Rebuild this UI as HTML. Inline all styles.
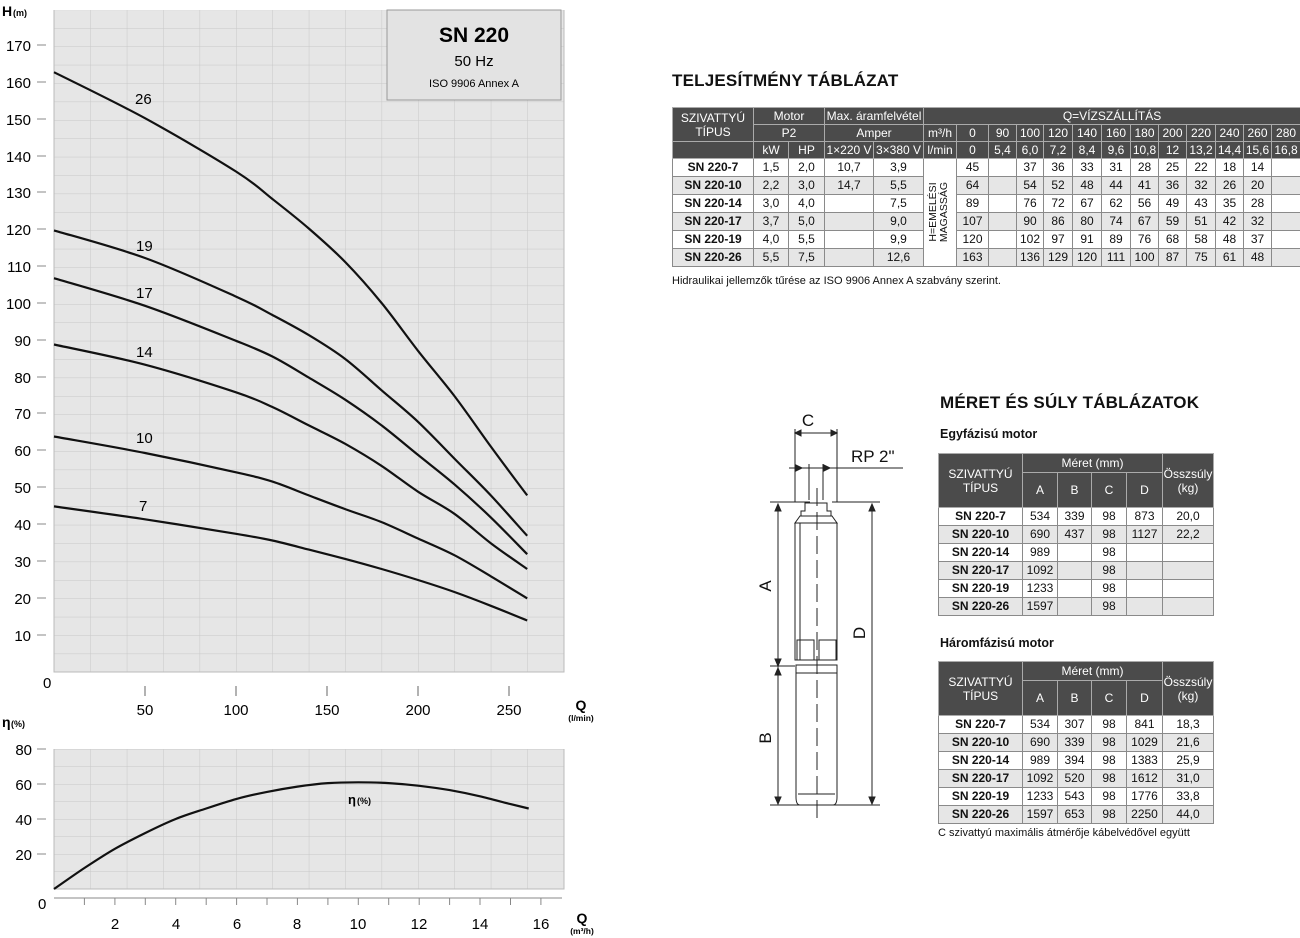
<!DOCTYPE html>
<html><head><meta charset="utf-8">
<style>
body{margin:0;width:1300px;height:938px;background:#fff;position:relative;overflow:hidden;font-family:"Liberation Sans",sans-serif;color:#111}
.abs{position:absolute}
table{border-collapse:collapse;table-layout:fixed;position:absolute;font-size:12px}
td{border:1px solid #8a8a8a;text-align:center;padding:0;height:17px;line-height:15px;white-space:nowrap;overflow:hidden}
th{background:#4b4b4b;color:#fff;font-weight:normal;border:1px solid #aaa;padding:0;height:16px;line-height:14px;white-space:nowrap;overflow:hidden;font-size:12px}
td.b{font-weight:bold;text-align:center}
tr.g td{background:#e6e6e6}
.h1{font-weight:bold;font-size:17px;letter-spacing:0.2px}
.h2{font-weight:bold;font-size:12.5px}
</style></head><body>
<svg class="abs" style="left:0;top:0" width="620" height="938" font-family="Liberation Sans, sans-serif">
<defs>
<pattern id="g1" x="54" y="9.6" width="36.4" height="18.4" patternUnits="userSpaceOnUse"><path d="M0 0H36.4M0 0V18.4" stroke="#c8c8c8" stroke-width="1" fill="none"/></pattern>
<pattern id="g2" x="54" y="749" width="36.4" height="17.5" patternUnits="userSpaceOnUse"><path d="M0 0H36.4M0 0V17.5" stroke="#c8c8c8" stroke-width="1" fill="none"/></pattern>
</defs>
<rect x="54" y="10" width="510" height="662" fill="#e6e6e6"/>
<rect x="54" y="10" width="510" height="662" fill="url(#g1)"/>
<path d="M54 10V672H564V10" stroke="#bbb" fill="none"/>
<rect x="387" y="10" width="174" height="90" fill="#e3e3e3" stroke="#999"/>
<text x="474" y="42" text-anchor="middle" font-weight="bold" font-size="21">SN 220</text>
<text x="474" y="66" text-anchor="middle" font-size="15">50 Hz</text>
<text x="474" y="87" text-anchor="middle" font-size="11">ISO 9906 Annex A</text>
<text x="2" y="16" font-weight="bold" font-size="14">H</text><text x="13" y="16" font-weight="bold" font-size="9">(m)</text>
<g font-size="15" text-anchor="end">
<text x="31" y="51">170</text><text x="31" y="88">160</text><text x="31" y="125">150</text><text x="31" y="162">140</text><text x="31" y="198">130</text><text x="31" y="235">120</text><text x="31" y="272">110</text><text x="31" y="309">100</text><text x="31" y="346">90</text><text x="31" y="383">80</text><text x="31" y="419">70</text><text x="31" y="456">60</text><text x="31" y="493">50</text><text x="31" y="530">40</text><text x="31" y="567">30</text><text x="31" y="604">20</text><text x="31" y="641">10</text>
</g>
<g stroke="#888"><path d="M37 45H46M37 82H46M37 119H46M37 156H46M37 192H46M37 229H46M37 266H46M37 303H46M37 340H46M37 377H46M37 413H46M37 450H46M37 487H46M37 524H46M37 561H46M37 598H46M37 635H46"/></g>
<text x="43" y="688" font-size="15">0</text>
<g font-size="15">
<text x="135" y="104">26</text><text x="136" y="251">19</text><text x="136" y="298">17</text><text x="136" y="357">14</text><text x="136" y="443">10</text><text x="139" y="511">7</text>
</g>
<g stroke="#999" stroke-width="1.5"><path d="M145 686V696M236 686V696M327 686V696M418 686V696M509 686V696M145 763V775M236 763V775M327 763V775M418 763V775M509 763V775"/></g>
<g font-size="15" text-anchor="middle"><text x="145" y="715">50</text><text x="236" y="715">100</text><text x="327" y="715">150</text><text x="418" y="715">200</text><text x="509" y="715">250</text></g>
<text x="581" y="710" text-anchor="middle" font-weight="bold" font-size="14">Q</text>
<text x="581" y="721" text-anchor="middle" font-weight="bold" font-size="8.5">(l/min)</text>
<text x="2" y="727" font-weight="bold" font-size="14">η</text><text x="11" y="727" font-weight="bold" font-size="9">(%)</text>
<rect x="54" y="749" width="510" height="140" fill="#e6e6e6"/>
<rect x="54" y="749" width="510" height="140" fill="url(#g2)"/>
<path d="M54 749V889H564V749" stroke="#bbb" fill="none"/>
<g font-size="15" text-anchor="end"><text x="32" y="755">80</text><text x="32" y="790">60</text><text x="32" y="825">40</text><text x="32" y="860">20</text></g>
<g stroke="#888"><path d="M37 749H46M37 784H46M37 819H46M37 854H46"/></g>
<text x="38" y="909" font-size="15">0</text>
<path d="M54 898H562" stroke="#888"/>
<g stroke="#888"><path d="M84.4 898V905M114.9 898V905M145.3 898V905M175.7 898V905M206.2 898V905M236.6 898V905M267 898V905M297.4 898V905M327.9 898V905M358.3 898V905M388.7 898V905M419.2 898V905M449.6 898V905M480 898V905M510.5 898V905M540.9 898V905"/></g>
<g font-size="15" text-anchor="middle"><text x="115" y="929">2</text><text x="176" y="929">4</text><text x="237" y="929">6</text><text x="297" y="929">8</text><text x="358" y="929">10</text><text x="419" y="929">12</text><text x="480" y="929">14</text><text x="541" y="929">16</text></g>
<text x="582" y="923" text-anchor="middle" font-weight="bold" font-size="14">Q</text>
<text x="582" y="934" text-anchor="middle" font-weight="bold" font-size="8.5">(m³/h)</text>
<text x="348" y="804" font-weight="bold" font-size="13">η</text><text x="357" y="804" font-weight="bold" font-size="9">(%)</text>
<g id="curves" fill="none" stroke="#111" stroke-width="2.2" stroke-linejoin="round">
<polyline class="s" points="54,72.2 145,118.2 236,171.5 272.4,199 308.8,228.5 345.2,262 381.6,303 418,350.8 454.4,396 490.8,446.5 527.2,495.4"/>
<polyline class="s" points="54,230.4 145,258 236,296.6 272.4,315 308.8,335.1 345.2,359 381.6,390.3 418,421.8 454.4,458.6 490.8,495.4 527.2,535.8"/>
<polyline class="s" points="54,278.2 145,305.8 236,340.8 272.4,356.5 308.8,377.6 345.2,399.7 381.6,425.4 418,454.9 454.4,484.3 490.8,517.4 527.2,554.2"/>
<polyline class="s" points="54,344.5 145,364.7 236,392.3 272.4,407 308.8,425.4 345.2,443.8 381.6,465.9 418,491.7 454.4,513.8 490.8,543.2 527.2,569"/>
<polyline class="s" points="54,436.5 145,453 236,472.3 272.4,481.6 308.8,495.4 345.2,509.1 381.6,522.1 418,538.5 454.4,555.2 490.8,576.3 527.2,598.4"/>
<polyline class="s" points="54,506.4 145,519.3 236,533.8 272.4,540.5 308.8,549.6 345.2,558.9 381.6,569 418,580 454.4,592 490.8,605.8 527.2,620.5"/>
<polyline class="s" points="54,889 84.4,868 114.9,848.8 145.3,833 175.7,819 206.2,808.5 236.6,798.9 267,791.9 297.4,786.6 327.9,783.1 358.3,782.3 388.7,783.1 419.2,785.8 449.6,790.1 480,796.3 510.5,804.1 528.7,808.5"/>
</g>
</svg>

<div class="abs h1" style="left:672px;top:71px">TELJESÍTMÉNY TÁBLÁZAT</div>
<table style="left:672px;top:107px;width:628px">
<colgroup><col style="width:81px"><col style="width:35px"><col style="width:36px"><col style="width:49px"><col style="width:50px"><col style="width:33px"><col style="width:32px"><col style="width:28px"><col style="width:27px"><col style="width:29px"><col style="width:29px"><col style="width:29px"><col style="width:28px"><col style="width:28px"><col style="width:29px"><col style="width:28px"><col style="width:28px"><col style="width:29px"></colgroup>
<tr><th rowspan="2">SZIVATTYÚ<br>TÍPUS</th><th colspan="2">Motor</th><th colspan="2">Max. áramfelvétel</th><th colspan="13">Q=VÍZSZÁLLÍTÁS</th></tr>
<tr><th colspan="2">P2</th><th colspan="2">Amper</th><th>m³/h</th><th>0</th><th>90</th><th>100</th><th>120</th><th>140</th><th>160</th><th>180</th><th>200</th><th>220</th><th>240</th><th>260</th><th>280</th></tr>
<tr><th></th><th>kW</th><th>HP</th><th>1×220 V</th><th>3×380 V</th><th>l/min</th><th>0</th><th>5,4</th><th>6,0</th><th>7,2</th><th>8,4</th><th>9,6</th><th>10,8</th><th>12</th><th>13,2</th><th>14,4</th><th>15,6</th><th>16,8</th></tr>
<tr><td class="b">SN 220-7</td><td>1,5</td><td>2,0</td><td>10,7</td><td>3,9</td><td rowspan="6" style="background:#fff"></td><td>45</td><td></td><td>37</td><td>36</td><td>33</td><td>31</td><td>28</td><td>25</td><td>22</td><td>18</td><td>14</td><td></td></tr>
<tr class="g"><td class="b">SN 220-10</td><td>2,2</td><td>3,0</td><td>14,7</td><td>5,5</td><td>64</td><td></td><td>54</td><td>52</td><td>48</td><td>44</td><td>41</td><td>36</td><td>32</td><td>26</td><td>20</td><td></td></tr>
<tr><td class="b">SN 220-14</td><td>3,0</td><td>4,0</td><td></td><td>7,5</td><td>89</td><td></td><td>76</td><td>72</td><td>67</td><td>62</td><td>56</td><td>49</td><td>43</td><td>35</td><td>28</td><td></td></tr>
<tr class="g"><td class="b">SN 220-17</td><td>3,7</td><td>5,0</td><td></td><td>9,0</td><td>107</td><td></td><td>90</td><td>86</td><td>80</td><td>74</td><td>67</td><td>59</td><td>51</td><td>42</td><td>32</td><td></td></tr>
<tr><td class="b">SN 220-19</td><td>4,0</td><td>5,5</td><td></td><td>9,9</td><td>120</td><td></td><td>102</td><td>97</td><td>91</td><td>89</td><td>76</td><td>68</td><td>58</td><td>48</td><td>37</td><td></td></tr>
<tr class="g"><td class="b">SN 220-26</td><td>5,5</td><td>7,5</td><td></td><td>12,6</td><td>163</td><td></td><td>136</td><td>129</td><td>120</td><td>111</td><td>100</td><td>87</td><td>75</td><td>61</td><td>48</td><td></td></tr>
</table>
<div class="abs" style="left:889px;top:201px;width:100px;height:22px;transform:rotate(-90deg);font-size:10.5px;line-height:11px;text-align:center">H=EMELÉSI<br>MAGASSÁG</div>
<div class="abs" style="left:672px;top:275px;font-size:11px">Hidraulikai jellemzők tűrése az ISO 9906 Annex A szabvány szerint.</div>

<div class="abs h1" style="left:940px;top:393px">MÉRET ÉS SÚLY TÁBLÁZATOK</div>
<div class="abs h2" style="left:940px;top:427px">Egyfázisú motor</div>
<table style="left:938px;top:453px;width:275px">
<colgroup><col style="width:84px"><col style="width:35px"><col style="width:34px"><col style="width:35px"><col style="width:36px"><col style="width:51px"></colgroup>
<tr><th rowspan="2" style="height:52px">SZIVATTYÚ<br>TÍPUS</th><th colspan="4" style="height:18px">Méret (mm)</th><th rowspan="2">Összsúly<br>(kg)</th></tr>
<tr><th style="height:34px">A</th><th>B</th><th>C</th><th>D</th></tr>
<tr><td class="b">SN 220-7</td><td>534</td><td>339</td><td>98</td><td>873</td><td>20,0</td></tr>
<tr class="g"><td class="b">SN 220-10</td><td>690</td><td>437</td><td>98</td><td>1127</td><td>22,2</td></tr>
<tr><td class="b">SN 220-14</td><td>989</td><td></td><td>98</td><td></td><td></td></tr>
<tr class="g"><td class="b">SN 220-17</td><td>1092</td><td></td><td>98</td><td></td><td></td></tr>
<tr><td class="b">SN 220-19</td><td>1233</td><td></td><td>98</td><td></td><td></td></tr>
<tr class="g"><td class="b">SN 220-26</td><td>1597</td><td></td><td>98</td><td></td><td></td></tr>
</table>
<div class="abs h2" style="left:940px;top:636px">Háromfázisú motor</div>
<table style="left:938px;top:661px;width:275px">
<colgroup><col style="width:84px"><col style="width:35px"><col style="width:34px"><col style="width:35px"><col style="width:36px"><col style="width:51px"></colgroup>
<tr><th rowspan="2" style="height:52px">SZIVATTYÚ<br>TÍPUS</th><th colspan="4" style="height:18px">Méret (mm)</th><th rowspan="2">Összsúly<br>(kg)</th></tr>
<tr><th style="height:34px">A</th><th>B</th><th>C</th><th>D</th></tr>
<tr><td class="b">SN 220-7</td><td>534</td><td>307</td><td>98</td><td>841</td><td>18,3</td></tr>
<tr class="g"><td class="b">SN 220-10</td><td>690</td><td>339</td><td>98</td><td>1029</td><td>21,6</td></tr>
<tr><td class="b">SN 220-14</td><td>989</td><td>394</td><td>98</td><td>1383</td><td>25,9</td></tr>
<tr class="g"><td class="b">SN 220-17</td><td>1092</td><td>520</td><td>98</td><td>1612</td><td>31,0</td></tr>
<tr><td class="b">SN 220-19</td><td>1233</td><td>543</td><td>98</td><td>1776</td><td>33,8</td></tr>
<tr class="g"><td class="b">SN 220-26</td><td>1597</td><td>653</td><td>98</td><td>2250</td><td>44,0</td></tr>
</table>
<div class="abs" style="left:938px;top:827px;font-size:11px">C szivattyú maximális átmérője kábelvédővel együtt</div>

<svg class="abs" style="left:740px;top:400px" width="200" height="420" font-family="Liberation Sans, sans-serif">
<g stroke="#222" fill="none" stroke-width="1">
<path d="M55 29V102M97 29V102M55 33H97M49 68H163M69 64V100M83 64V100"/>
<path d="M55 33l6-3v6zM97 33l-6-3v6zM62 68l-6-3v6zM90 68l-6-3v6z" fill="#222"/>
<path d="M30 102H70M92 102H140M30 266H55M30 405H60M93 405H140"/>
<path d="M38 104V404M132 104V404"/>
<path d="M38 104l-3 7h6zM38 266l-3-7h6zM38 268l-3 7h6zM38 404l-3-7h6zM132 104l-3 7h6zM132 404l-3-7h6z" fill="#222"/>
<path d="M65 103h22v8h4v5h-30v-5h4z"/>
<path d="M60 116h32l5 7h-42z"/>
<path d="M55 123H97V260H55Z"/><path d="M60 123V260"/>
<path d="M57 240h17v20h-17zM79 240h17v20h-17z"/>
<path d="M56 265h41v8h-41z"/>
<path d="M56 273h41v124q0 8-4 8h-33q-4 0-4-8z"/>
<path d="M58 394h37"/>
<path d="M77 88V420" stroke-dasharray="18 6"/>
</g>
<g font-size="17" fill="#111">
<text x="68" y="26" text-anchor="middle">C</text>
<text x="111" y="62">RP 2"</text>
<text transform="translate(31,186) rotate(-90)" text-anchor="middle">A</text>
<text transform="translate(31,338) rotate(-90)" text-anchor="middle">B</text>
<text transform="translate(125,233) rotate(-90)" text-anchor="middle">D</text>
</g>
</svg>
<script>
(function(){
var ns="http://www.w3.org/2000/svg";
document.querySelectorAll("polyline.s").forEach(function(pl){
 var p=pl.getAttribute("points").trim().split(/\s+/).map(function(s){return s.split(",").map(Number);});
 var d="M"+p[0][0]+","+p[0][1];
 for(var i=0;i<p.length-1;i++){
  var p0=p[i-1]||p[i],p1=p[i],p2=p[i+1],p3=p[i+2]||p2;
  var c1=[p1[0]+(p2[0]-p0[0])/6,p1[1]+(p2[1]-p0[1])/6];
  var c2=[p2[0]-(p3[0]-p1[0])/6,p2[1]-(p3[1]-p1[1])/6];
  d+=" C"+c1[0].toFixed(1)+","+c1[1].toFixed(1)+" "+c2[0].toFixed(1)+","+c2[1].toFixed(1)+" "+p2[0]+","+p2[1];
 }
 var path=document.createElementNS(ns,"path");path.setAttribute("d",d);
 pl.parentNode.insertBefore(path,pl);pl.parentNode.removeChild(pl);
});
})();
</script>
</body></html>
